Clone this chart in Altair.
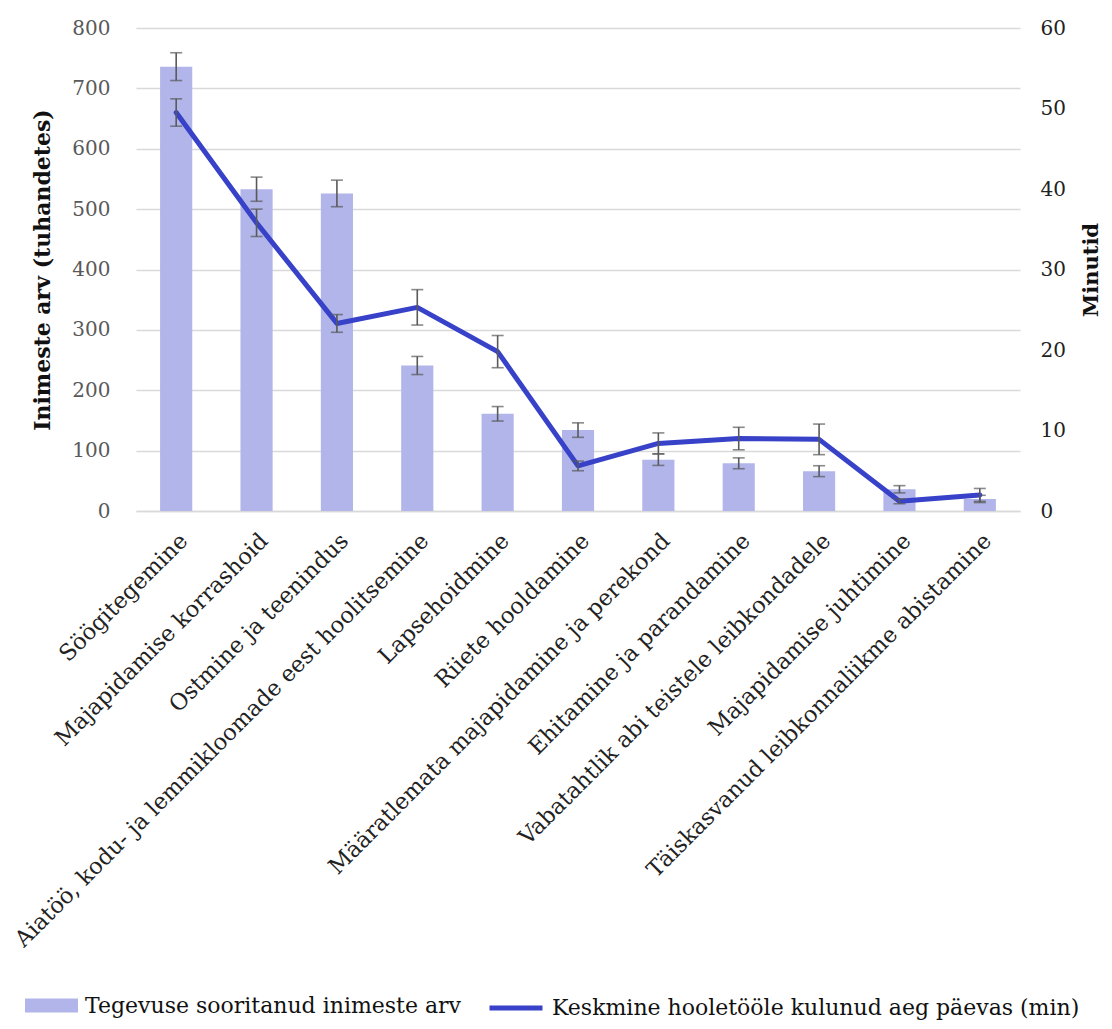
import altair as alt
import pandas as pd

categories = [
    "Söögitegemine",
    "Majapidamise korrashoid",
    "Ostmine ja teenindus",
    "Aiatöö, kodu- ja lemmikloomade eest hoolitsemine",
    "Lapsehoidmine",
    "Riiete hooldamine",
    "Määratlemata majapidamine ja perekond",
    "Ehitamine ja parandamine",
    "Vabatahtlik abi teistele leibkondadele",
    "Majapidamise juhtimine",
    "Täiskasvanud leibkonnaliikme abistamine",
]
people = [736, 533, 526, 241, 161, 134, 85, 79, 66, 36, 20]
people_err = [23, 20, 22, 15, 12, 12, 9.5, 9, 9, 6, 6]
minutes = [49.5, 35.8, 23.3, 25.3, 19.8, 5.6, 8.4, 9.0, 8.9, 1.2, 2.0]
minutes_err = [1.7, 1.7, 1.1, 2.2, 2.0, 0.6, 1.3, 1.4, 1.9, 0.3, 0.8]
left_ticks = [0, 100, 200, 300, 400, 500, 600, 700, 800]
right_ticks = [0, 10, 20, 30, 40, 50, 60]

bar_series = "Tegevuse sooritanud inimeste arv"
line_series = "Keskmine hooletööle kulunud aeg päevas (min)"

df = pd.DataFrame({
    "cat": categories,
    "people": people,
    "p_lo": [p - e for p, e in zip(people, people_err)],
    "p_hi": [p + e for p, e in zip(people, people_err)],
    "minutes": minutes,
    "m_lo": [m - e for m, e in zip(minutes, minutes_err)],
    "m_hi": [m + e for m, e in zip(minutes, minutes_err)],
    "bs": bar_series,
    "ls": line_series,
})

FONT = "DejaVu Serif"
BAR = "#B1B5E9"
LINE = "#3742C8"
ERR = "#595959"
GRID = "#D9D9D9"

base = alt.Chart(df)

x = alt.X(
    "cat:N", sort=categories, title=None,
    scale=alt.Scale(paddingInner=0.6, paddingOuter=0.3),
    axis=alt.Axis(labelAngle=-45, labelFontSize=22.5, labelColor="#222222",
                  labelFont=FONT, ticks=False, domain=True, domainColor=GRID,
                  domainWidth=1.5, labelPadding=18, labelLimit=800, grid=False),
)

ys_left = alt.Scale(domain=[0, 800], nice=False)
ys_right = alt.Scale(domain=[0, 60], nice=False)

LT = "Inimeste arv (tuhandetes)"
RT = "Minutid"

left_axis = alt.Axis(
    orient="left", values=left_ticks, title=LT,
    titleFont=FONT, titleFontSize=22, titleFontWeight="bold", titleColor="#111111",
    titlePadding=17, labelFont=FONT, labelFontSize=20, labelColor="#595959",
    labelPadding=26, ticks=False, domain=False, grid=True, gridColor=GRID,
    gridWidth=1.5,
)
right_axis = alt.Axis(
    orient="right", values=right_ticks, title=RT,
    titleFont=FONT, titleFontSize=21, titleFontWeight="bold", titleColor="#111111",
    titleAngle=-90, titleBaseline="top", titlePadding=15,
    labelFont=FONT, labelFontSize=20, labelColor="#222222",
    labelPadding=20, ticks=False, domain=False, grid=False,
)

leg1 = alt.Legend(
    title=None, orient="none", legendX=-111, legendY=951,
    symbolType="M-1,-0.26L1,-0.26L1,0.26L-1,0.26Z", symbolSize=2809,
    symbolStrokeWidth=0, labelFont=FONT, labelFontSize=22, labelColor="#111111",
    labelLimit=800, labelOffset=7, padding=0,
)
leg2 = alt.Legend(
    title=None, orient="none", legendX=351, legendY=951,
    symbolType="stroke", symbolSize=2809, symbolStrokeWidth=5,
    labelFont=FONT, labelFontSize=22, labelColor="#111111",
    labelLimit=800, labelOffset=7, padding=0,
)

bars = base.mark_bar().encode(
    x=x,
    y=alt.Y("people:Q", scale=ys_left, axis=left_axis, title=LT),
    fill=alt.Fill("bs:N", scale=alt.Scale(domain=[bar_series], range=[BAR]), legend=leg1),
)
bar_rule = base.mark_rule(color=ERR, strokeWidth=1.6).encode(
    x=x, y=alt.Y("p_lo:Q", scale=ys_left, axis=left_axis, title=LT), y2="p_hi:Q")
bar_cap_hi = base.mark_tick(color=ERR, size=12, thickness=1.6, orient="horizontal").encode(
    x=x, y=alt.Y("p_hi:Q", scale=ys_left, axis=left_axis, title=LT))
bar_cap_lo = base.mark_tick(color=ERR, size=12, thickness=1.6, orient="horizontal").encode(
    x=x, y=alt.Y("p_lo:Q", scale=ys_left, axis=left_axis, title=LT))

left_layer = alt.layer(bars, bar_rule, bar_cap_hi, bar_cap_lo)

line = base.mark_line(strokeWidth=5, strokeCap="round", strokeJoin="round").encode(
    x=x,
    y=alt.Y("minutes:Q", scale=ys_right, axis=right_axis, title=RT),
    stroke=alt.Stroke("ls:N", scale=alt.Scale(domain=[line_series], range=[LINE]), legend=leg2),
)
line_rule = base.mark_rule(color=ERR, strokeWidth=1.6).encode(
    x=x, y=alt.Y("m_lo:Q", scale=ys_right, axis=right_axis, title=RT), y2="m_hi:Q")
line_cap_hi = base.mark_tick(color=ERR, size=12, thickness=1.6, orient="horizontal").encode(
    x=x, y=alt.Y("m_hi:Q", scale=ys_right, axis=right_axis, title=RT))
line_cap_lo = base.mark_tick(color=ERR, size=12, thickness=1.6, orient="horizontal").encode(
    x=x, y=alt.Y("m_lo:Q", scale=ys_right, axis=right_axis, title=RT))

right_layer = alt.layer(line, line_rule, line_cap_hi, line_cap_lo)

chart = alt.layer(left_layer, right_layer).resolve_scale(
    y="independent"
).properties(
    width=884, height=483,
    autosize=alt.AutoSizeParams(type="none"),
    padding={"left": 128, "top": 20, "right": 84, "bottom": 510},
    background="white",
).configure_view(stroke=None)

chart.save("out.html", embed_options={"renderer": "svg", "actions": False})
